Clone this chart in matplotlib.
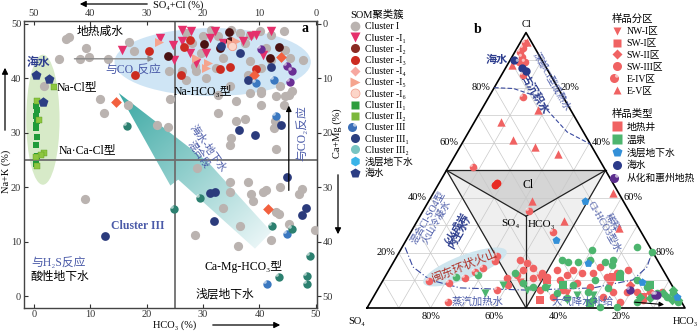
import numpy as np
import matplotlib
matplotlib.use('Agg')
import matplotlib.pyplot as plt
from matplotlib.patches import Ellipse, Polygon
from matplotlib.lines import Line2D
from matplotlib.path import Path
from matplotlib.markers import MarkerStyle
from matplotlib.legend_handler import HandlerTuple
from matplotlib.colors import to_rgb

plt.rcParams['font.family'] = ['Liberation Serif', 'Noto Sans CJK SC', 'DejaVu Sans']
plt.rcParams['font.size'] = 7.5
plt.rcParams['axes.unicode_minus'] = False

# ──────────────────────────────────────────────────────────────
# panel a 数据: (HCO3 %, Na+K %)
# ──────────────────────────────────────────────────────────────
a_I = np.array([
    (5.7, 47.2), (6.3, 47.6), (4.5, 43.5), (8.2, 43.5), (9.3, 45.6), (9.7, 43.9), (13.1, 43.5),
    (16.8, 46.7), (17.7, 45.0), (11.8, 36.2), (12.5, 33.6), (16.7, 35.1), (1.8, 38.6),
    (21.9, 31.4), (23.8, 31.0), (24.2, 36.2), (24.0, 41.3), (26.9, 48.3), (28.1, 46.5),
    (28.5, 42.3), (26.3, 41.3), (29.9, 47.8), (31.4, 48.9), (32.6, 47.8), (33.5, 43.7),
    (29.6, 44.6), (32.3, 41.9), (34.9, 48.9), (36.6, 48.3), (37.5, 46.5), (38.4, 48.0),
    (38.4, 43.2), (40.1, 48.7), (41.2, 45.6), (42.1, 48.0), (44.3, 48.7), (44.6, 45.2),
    (45.5, 43.7), (42.1, 43.4), (40.3, 41.9), (38.0, 40.6), (47.8, 43.4), (43.7, 38.6),
    (43.0, 36.7), (44.6, 36.7), (34.8, 38.6), (38.4, 37.3), (40.3, 37.3), (28.7, 41.3),
    (30.5, 40.0), (26.9, 39.7), (32.6, 33.6), (32.6, 36.9), (35.8, 35.8), (35.8, 32.1),
    (37.5, 32.5), (34.9, 29.0), (34.8, 27.7), (40.3, 35.1), (40.3, 37.6), (44.3, 35.1),
    (45.2, 36.9), (45.7, 37.6), (42.5, 30.8), (42.8, 32.1), (43.0, 27.1), (29.0, 23.6),
    (34.8, 21.0), (38.0, 21.0), (38.5, 18.8), (38.9, 17.5), (40.7, 19.2), (41.2, 19.4),
    (43.7, 20.1), (47.0, 18.8), (47.5, 19.7), (34.8, 19.2), (33.5, 16.1), (43.0, 15.5),
    (43.5, 15.1), (36.6, 12.9), (28.5, 11.3), (36.2, 9.2), (42.1, 10.3), (45.2, 13.3),
    (49.8, 12.2), (9.0, 17.9),
])
a_I1 = np.array([
    (15.6, 45.2), (22.4, 47.4), (24.6, 46.1), (24.9, 43.4), (26.3, 48.9), (27.8, 48.7),
    (26.3, 46.9), (27.6, 44.6), (28.7, 42.8), (30.5, 44.6), (32.1, 48.7), (31.2, 47.4),
    (33.5, 46.5), (37.1, 46.9), (38.5, 47.8), (39.4, 48.0), (42.1, 48.7), (40.7, 44.3),
])
a_I2 = np.array([(34.6, 48.5), (34.8, 46.9), (33.0, 45.6), (30.1, 46.3), (23.7, 44.1),
                 (43.4, 45.8), (41.8, 43.7)])
a_I3 = np.array([(20.4, 45.0), (17.9, 40.6), (26.0, 40.6), (27.6, 47.0), (26.7, 45.8),
                 (33.0, 41.7), (34.8, 42.1), (39.4, 41.7)])
a_I4 = np.array([(43.9, 43.9), (14.5, 35.6), (39.1, 40.6), (41.6, 15.9)])
a_I5 = np.array([(22.2, 46.7), (28.7, 43.7), (30.8, 42.8), (30.5, 41.9), (34.9, 46.5),
                 (35.8, 46.9)])
a_I6 = np.array([(35.2, 46.0)])
a_II1 = np.array([(0.4, 35.0), (0.5, 34.1), (0.4, 33.0), (0.5, 32.1), (0.3, 31.5),
                  (0.4, 30.8), (0.5, 29.3), (0.4, 27.7), (0.5, 25.8), (0.3, 24.2)])
a_II2 = np.array([(3.6, 38.4), (0.5, 35.8), (0.9, 32.3), (1.8, 26.2), (1.3, 26.0),
                  (0.4, 25.6), (0.6, 23.9)])
a_III = np.array([(39.4, 39.1), (42.5, 39.7), (43.0, 33.0), (44.8, 11.4), (41.4, 2.2)])
a_III1 = np.array([(36.6, 44.6), (42.1, 42.1), (38.0, 39.7), (33.2, 45.9), (36.4, 30.6),
                   (39.2, 29.5), (43.9, 31.4), (44.8, 21.8), (31.2, 19.0), (32.1, 19.2),
                   (31.9, 13.7), (48.2, 16.2), (47.5, 14.8), (12.7, 11.1)])
a_III2 = np.array([(29.4, 18.1), (24.9, 15.9), (42.3, 12.9), (45.7, 12.4), (48.9, 7.4),
                   (43.5, 3.5), (48.4, 3.7), (48.4, 2.2), (16.5, 31.2)])
a_purple = np.array([(40.3, 45.4), (44.8, 42.3), (45.7, 41.3), (45.5, 39.3)])
a_sea = np.array([(0.4, 40.6), (2.7, 39.9), (1.6, 35.6)])

# ──────────────────────────────────────────────────────────────
# panel b 数据: (Cl %, HCO3 %)，SO4 = 100 - Cl - HCO3
# ──────────────────────────────────────────────────────────────
b_red_o = np.array([
    (17.5, 39.4), (16.4, 42.1), (14.5, 45.0), (13.8, 42.2), (12.7, 48.7), (10.9, 38.6),
    (12.0, 41.2), (8.4, 40.1), (10.9, 46.8), (11.3, 51.0), (13.8, 52.8), (10.2, 55.6),
    (12.0, 56.9), (13.8, 57.9), (12.7, 61.3), (9.1, 61.5), (12.7, 64.8), (14.9, 65.9),
    (11.3, 69.9), (12.7, 72.3), (13.8, 75.2), (7.6, 66.3), (5.8, 74.5), (5.8, 78.9),
    (5.8, 82.0), (5.8, 86.1), (6.5, 58.4), (6.5, 51.2), (4.0, 56.5), (4.0, 72.2),
    (2.2, 78.5), (2.9, 85.4), (5.8, 89.9), (44.7, 18.0), (45.5, 18.1),
])
b_red_sph = np.array([
    (96.4, 1.5), (94.5, 1.9), (93.1, 1.5), (91.3, 3.1), (89.5, 3.1), (89.5, 5.0),
    (84.7, 6.8), (76.7, 10.8), (51.3, 7.7), (35.3, 33.3), (27.6, 44.7), (9.8, 14.6),
    (9.1, 21.2), (10.9, 25.4), (13.1, 27.4), (14.5, 29.2), (17.1, 31.7), (18.9, 31.4),
    (2.2, 24.4), (6.5, 37.7),
])
b_red_up = np.array([(96.7, 2.0), (88.4, 1.4), (72.0, 17.8), (67.6, 8.3), (61.1, 15.4),
                     (58.5, 23.6), (56.0, 32.1), (38.9, 32.4), (31.6, 46.1), (41.8, 56.5),
                     (29.1, 64.7)])
b_red_dn = np.array([(10.9, 49.0), (5.5, 60.2), (9.5, 43.4), (8.4, 72.2)])
b_red_sq = np.array([(11.3, 71.8), (10.2, 51.5), (4.0, 84.8), (2.9, 53.0)])
b_red_dia = np.array([(8.4, 78.5)])
b_green_o = np.array([
    (12.7, 40.2), (9.1, 44.6), (7.6, 48.4), (17.5, 52.6), (16.7, 54.9), (16.7, 58.1),
    (17.5, 61.4), (16.7, 66.5), (17.5, 68.7), (12.7, 73.3), (10.2, 66.6), (8.4, 60.6),
    (5.5, 57.0), (3.6, 61.1), (5.8, 66.6), (7.3, 72.2), (0.4, 78.4), (10.2, 79.8),
    (7.6, 84.3), (5.5, 88.5), (4.0, 92.3), (5.5, 93.5), (2.2, 96.8), (2.2, 83.8),
    (0.4, 73.1), (7.6, 52.2), (2.9, 69.7), (21.1, 60.3), (15.6, 69.2), (22.2, 73.8),
    (20.4, 79.4),
])
b_green_sph = np.array([(11.3, 22.3), (12.0, 28.9)])
b_green_dn = np.array([(8.4, 38.6), (5.5, 34.4), (7.3, 53.0), (4.7, 63.7), (2.9, 61.5),
                       (4.7, 68.8), (6.5, 47.1)])
b_green_sq = np.array([(8.4, 57.4), (11.3, 74.0), (1.8, 69.2), (8.4, 84.8)])
b_green_dia = np.array([(6.5, 93.0), (2.9, 96.5), (2.9, 94.5), (5.5, 90.4), (3.6, 87.2),
                        (4.0, 83.8)])
b_blue_pent = np.array([(38.9, 49.1), (24.7, 47.1), (9.5, 81.7), (4.0, 95.5), (16.4, 61.3)])
b_navy_o = np.array([(90.2, 1.1), (87.3, 5.1), (86.2, 6.9)])
b_purple = np.array([(6.5, 79.4), (4.7, 88.2), (4.7, 89.0)])

# 辅助曲线 (Cl %, HCO3 %)
deep_curve = np.array([(80, 0), (79.7, 6.2), (77.4, 13.3), (71.9, 20.7), (63.9, 31.0),
                       (59.5, 40.5)])
low_curve = np.array([(22, 1), (14.9, 7), (10.2, 14.7), (7.3, 25.6), (6.5, 47),
                      (7.3, 67.5), (10.2, 78.5), (14.9, 80.6), (20.3, 79.5)])

NAVY = '#2f3f8f'
LBLUE = '#4a5aa8'
RED = '#f06262'
GREEN = '#4db56e'

HL = MarkerStyle(Path.circle(center=(-0.28, 0.28), radius=0.2))


def sphere(ax, x, y, color, s, z=4, clip=True):
    ax.scatter(x, y, s=s, c=color, marker='o', linewidths=0, zorder=z, clip_on=clip)
    ax.scatter(x, y, s=s, c='white', marker=HL, alpha=0.6, linewidths=0, zorder=z + 0.1,
               clip_on=clip)


def tern(cl, h):
    cl = np.asarray(cl, float) / 100
    h = np.asarray(h, float) / 100
    return h + cl / 2, cl * np.sqrt(3) / 2


fig = plt.figure(figsize=(7, 3.31), dpi=100)

# ──────────────────────────────────────────────────────────────
# panel a
# ──────────────────────────────────────────────────────────────
ax = fig.add_axes([24 / 700, 1 - 307.7 / 331, 293 / 700, 287 / 331])

ax.add_patch(Ellipse((31.7, 43.0), 34.8, 12.5, facecolor='#cfe5f5', edgecolor='none', zorder=0))
ax.add_patch(Ellipse((1.6, 32.4), 5.9, 23.9, facecolor='#d7eac8', edgecolor='none', zorder=0))

# 海水-地下水混合段 渐变楔形
wedge = Polygon([(15.05, 37.3), (24.2, 20.3), (25.6, 21.4), (39.2, 8.7), (42.1, 11.8),
                 (30.8, 24.7)], closed=True, facecolor='none', edgecolor='none')
ax.add_patch(wedge)
GX, GY = np.meshgrid(np.linspace(10, 45, 300), np.linspace(5, 40, 300))
p0 = np.array([15.05, 37.3])
d = np.array([41.0, 10.0]) - p0
t = np.clip(((GX - p0[0]) * d[0] + (GY - p0[1]) * d[1]) / (d @ d), 0, 1)
c0 = np.array(to_rgb('#3aa8a3'))
c1 = np.array(to_rgb('#eaf6f7'))
img = c0 * (1 - t[..., None]) + c1 * t[..., None]
im = ax.imshow(img, extent=[10, 45, 5, 40], origin='lower', aspect='auto', zorder=0.5)
im.set_clip_path(wedge)

ax.axvline(25, color='#6e6e6e', lw=1.3, zorder=1)
ax.axhline(25, color='#6e6e6e', lw=1.3, zorder=1)

ax.scatter(*a_I.T, s=44, c='#bab3b0', linewidths=0, zorder=3)
ax.scatter(*a_I1.T, s=46, c='#e5306c', marker='v', linewidths=0, zorder=4)
ax.scatter(*a_I2.T, s=40, c='#4a1212', linewidths=0, zorder=4)
ax.scatter(*a_I3.T, s=40, c='#cc2b20', linewidths=0, zorder=4)
ax.scatter(*a_I4.T, s=30, c='#f2603e', marker='D', linewidths=0, zorder=4)
ax.scatter(*a_I5.T, s=42, c='#f5a48e', marker='>', linewidths=0, zorder=4)
ax.scatter(*a_I6.T, s=36, c='#fcd5c8', edgecolors='#f09a88', linewidths=0.6, zorder=4)
ax.scatter(*a_II1.T, s=22, c='#1f9b3a', marker='s', linewidths=0, zorder=4)
ax.scatter(*a_II2.T, s=22, c='#8dc63f', marker='s', edgecolors='#5a9a20', linewidths=0.3,
           zorder=4)
sphere(ax, *a_III.T, '#3b78c0', 36)
ax.scatter(*a_III1.T, s=40, c='#2b3b7c', linewidths=0, zorder=4)
sphere(ax, *a_III2.T, '#2c8070', 36)
sphere(ax, *a_purple.T, '#6a2f95', 36)
ax.scatter(*a_sea.T, s=56, c='#2c3e84', marker='p', linewidths=0, zorder=4)

ax.set_xlim(-1.75, 50.2)
ax.set_ylim(-2.15, 50.6)
ax.set_xticks(range(0, 51, 10))
ax.set_yticks(range(0, 51, 10))
ax.tick_params(axis='x', direction='in', length=3, labelsize=7.5, pad=2, colors='#333333')
ax.tick_params(axis='y', direction='in', length=3, labelsize=7.5, pad=2, colors='#333333')
for s in ax.spines.values():
    s.set_color('#444444')
    s.set_linewidth(1.0)

flip = (lambda v: 50 - v, lambda v: 50 - v)
top = ax.secondary_xaxis('top', functions=flip)
top.set_xticks(range(0, 51, 10))
top.tick_params(direction='in', length=3, labelsize=7.5, pad=2, colors='#333333')
right = ax.secondary_yaxis('right', functions=flip)
right.set_yticks(range(0, 51, 10))
right.tick_params(direction='out', length=3, labelsize=7.5, pad=1, colors='#333333')
for sec in (top, right):
    for s in sec.spines.values():
        s.set_color('#444444')

ax.text(11.7, 48.5, '地热咸水', fontsize=8.5, ha='center', va='center')
ax.text(48.0, 49.2, 'a', fontsize=10, fontweight='bold', ha='center', va='center')
ax.text(0.8, 42.8, '海水', fontsize=8.5, color=NAVY, ha='center', va='center',
        fontweight='bold')
ax.text(17.6, 41.5, '与CO₂反应', fontsize=8.5, color=LBLUE, ha='center', va='center')
ax.text(7.6, 38.4, 'Na-Cl型', fontsize=8.5, ha='center', va='center')
ax.text(30.0, 37.5, 'Na-HCO₃型', fontsize=8.5, ha='center', va='center')
ax.text(9.4, 26.8, 'Na·Ca-Cl型', fontsize=8.5, ha='center', va='center')
ax.text(30.1, 26.5, '海水-地下水\n混合段', fontsize=7.5, color=LBLUE, ha='center',
        va='center', rotation=-55, linespacing=1.0)
ax.text(47.6, 30.0, '与CO₂反应', fontsize=8.5, color=LBLUE, ha='center', va='center',
        rotation=90)
ax.text(18.4, 12.9, 'Cluster III', fontsize=8.5, color=LBLUE, ha='center', va='center',
        fontweight='bold')
ax.text(4.3, 6.1, '与H₂S反应', fontsize=8.5, color=LBLUE, ha='center', va='center')
ax.text(4.6, 3.5, '酸性地下水', fontsize=8.5, ha='center', va='center')
ax.text(37.1, 5.5, 'Ca-Mg-HCO₃型', fontsize=8.5, ha='center', va='center')
ax.text(33.9, 0.3, '浅层地下水', fontsize=8.5, ha='center', va='center')
ax.annotate('', xy=(21.8, 43.6), xytext=(6.7, 43.6),
            arrowprops=dict(arrowstyle='-|>', color='#8a8a8a', lw=1.0, mutation_scale=8),
            zorder=5)
ax.annotate('', xy=(45.2, 35.5), xytext=(45.2, 18.9),
            arrowprops=dict(arrowstyle='-|>', color='black', lw=0.9, mutation_scale=8),
            zorder=5)

# 轴标题与箭头 (图坐标)
fig.text(178 / 700, 1 - 5 / 331, 'SO₄+Cl (%)', fontsize=7.5, ha='center', va='center')
fig.text(175 / 700, 1 - 325 / 331, 'HCO₃ (%)', fontsize=7.5, ha='center', va='center')
fig.text(6 / 700, 1 - 171 / 331, 'Na+K (%)', fontsize=7.5, ha='center', va='center',
         rotation=90)
fig.text(337 / 700, 1 - 133 / 331, 'Ca+Mg (%)', fontsize=7.5, ha='center', va='center',
         rotation=90)
arr = dict(arrowstyle='-|>', color='black', lw=0.9, mutation_scale=9)
for (x0, y0), (x1, y1) in [((150, 4), (77, 4)), ((210, 325), (283, 325)),
                           ((5, 133), (5, 65)), ((338, 172), (338, 237))]:
    fig.add_artist(matplotlib.patches.FancyArrowPatch(
        (x0 / 700, 1 - y0 / 331), (x1 / 700, 1 - y1 / 331), transform=fig.transFigure, **arr))


def mk(marker, color, ms=6, mec='none', mew=0.5):
    return Line2D([], [], ls='', marker=marker, mfc=color, mec=mec, mew=mew, ms=ms)


def sp(color, ms=6):
    return (mk('o', color, ms), Line2D([], [], ls='', marker=HL, mfc='white', mec='none',
                                       alpha=0.6, ms=ms))


a_handles = [mk('o', '#bab3b0', 7), mk('v', '#e5306c', 7), mk('o', '#8a2a22', 6.5),
             mk('o', '#cc2b20', 6.5), mk('D', '#f7a8a0', 5.5), mk('>', '#f5a48e', 6.5),
             mk('o', '#fcd5c8', 6.5, '#f09a88'), mk('s', '#2e9e3e', 6), mk('s', '#7cb83c', 6),
             sp('#3b6fb8', 6.5), mk('o', '#2b3f80', 6.5), mk('o', '#78c4c2', 6.5),
             mk('h', '#3ab4e8', 7), mk('p', '#2c3e84', 7)]
a_labels = ['Cluster I', 'Cluster -I₁', 'Cluster -I₂', 'Cluster -I₃', 'Cluster -I₄',
            'Cluster -I₅', 'Cluster -I₆', 'Cluster II₁', 'Cluster II₂', 'Cluster III',
            'Cluster III₁', 'Cluster III₂', '浅层地下水', '海水']
leg_kw = dict(loc='upper left', bbox_transform=fig.transFigure, frameon=False,
              alignment='left', fontsize=7, title_fontsize=7.5, handlelength=1.0,
              handletextpad=0.5, borderpad=0, borderaxespad=0,
              handler_map={tuple: HandlerTuple(ndivide=None)})
fig.legend(a_handles, a_labels, title='SOM聚类簇', bbox_to_anchor=(350 / 700, 1 - 10 / 331),
           labelspacing=0.23, **leg_kw)

# ──────────────────────────────────────────────────────────────
# panel b 三角图
# ──────────────────────────────────────────────────────────────
bx = fig.add_axes([367 / 700, 1 - 308 / 331, 318 / 700, 275.4 / 331])
bx.set_xlim(0, 1)
bx.set_ylim(0, np.sqrt(3) / 2)
bx.axis('off')

mL, mR, mB, cC = tern(50, 0), tern(50, 50), tern(0, 50), tern(100 / 3, 100 / 3)
bx.add_patch(Polygon([mL, mR, cC], closed=True, facecolor='#d5d5d5', edgecolor='none',
                     zorder=0))
bx.add_patch(Polygon([mL, cC, mB], closed=True, facecolor='#efefef', edgecolor='none',
                     zorder=0))
bx.add_patch(Polygon([mR, cC, mB], closed=True, facecolor='#efefef', edgecolor='none',
                     zorder=0))

for k in range(10, 100, 10):
    for p, q in [((k, 0), (k, 100 - k)), ((0, k), (100 - k, k)), ((0, 100 - k), (100 - k, 0))]:
        xa, ya = tern(*p)
        xb, yb = tern(*q)
        bx.plot([xa, xb], [ya, yb], color='#c9c9c9', lw=0.5, zorder=1)

for p, q in [(mL, mR), (mL, mB), (mR, mB), (cC, mL), (cC, mR), (cC, mB)]:
    bx.plot([p[0], q[0]], [p[1], q[1]], color='#222222', lw=0.9, zorder=2)
corners = [tern(0, 0), tern(0, 100), tern(100, 0), tern(0, 0)]
bx.plot([c[0] for c in corners], [c[1] for c in corners], color='black', lw=1.2, zorder=2,
        clip_on=False)

bx.plot(*tern(*deep_curve.T), color='#3a4aa0', lw=0.8, ls=(0, (4, 2)), zorder=2)
bx.plot(*tern(*low_curve.T), color='#3a4aa0', lw=0.8, ls=(0, (6, 2, 1, 2)), zorder=2)
bx.add_patch(Ellipse((0.308, 0.129), 0.28, 0.075, angle=21, facecolor='#cfe5ee',
                     edgecolor='none', zorder=1.5))

kw = dict(linewidths=0, zorder=4, clip_on=False)
bx.scatter(*tern(*b_red_o.T), s=30, c=RED, marker='o', **kw)
bx.scatter(*tern(*b_red_o[-2:].T), s=30, c='#e82a22', marker='o', **kw)
sphere(bx, *tern(*b_red_sph.T), RED, 30, clip=False)
bx.scatter(*tern(*b_red_up.T), s=36, c=RED, marker='^', **kw)
bx.scatter(*tern(*b_red_dn.T), s=34, c=RED, marker='v', **kw)
bx.scatter(*tern(*b_red_sq.T), s=26, c=RED, marker='s', **kw)
bx.scatter(*tern(*b_red_dia.T), s=24, c=RED, marker='D', **kw)
bx.scatter(*tern(*b_green_o.T), s=30, c=GREEN, marker='o', **kw)
sphere(bx, *tern(*b_green_sph.T), GREEN, 30, clip=False)
bx.scatter(*tern(*b_green_dn.T), s=34, c=GREEN, marker='v', **kw)
bx.scatter(*tern(*b_green_sq.T), s=26, c=GREEN, marker='s', **kw)
bx.scatter(*tern(*b_green_dia.T), s=24, c=GREEN, marker='D', **kw)
bx.scatter(*tern(*b_blue_pent.T), s=36, c='#3390d8', marker='p', **kw)
bx.scatter(*tern(*b_navy_o.T), s=36, c='#2b3a8a', marker='o', **kw)
sphere(bx, *tern(*b_purple.T), '#5b2d8e', 36, clip=False)

# 刻度标签
for k in (20, 40, 60, 80):
    x, y = tern(k, 0)
    bx.text(x - 0.012, y, f'{k}%', ha='right', va='center', fontsize=7.5)
    x, y = tern(100 - k, k)
    bx.text(x + 0.008, y, f'{k}%', ha='left', va='center', fontsize=7.5)
    x, y = tern(0, 100 - k)
    bx.text(x, y - 0.014, f'{k}%', ha='center', va='top', fontsize=7.5)
bx.text(0.503, 0.893, 'Cl', ha='center', va='center', fontsize=7.5)
bx.text(-0.031, -0.041, 'SO₄', ha='center', va='center', fontsize=7.5)
bx.text(1.042, -0.044, 'HCO₃', ha='right', va='center', fontsize=7.5)
bx.text(0.349, 0.877, 'b', ha='center', va='center', fontsize=10, fontweight='bold')
bx.text(0.506, 0.387, 'Cl', ha='center', va='center', fontsize=8.5)
bx.text(0.45, 0.267, 'SO₄', ha='center', va='center', fontsize=8)
bx.text(0.55, 0.264, 'HCO₃', ha='center', va='center', fontsize=8)
bx.text(0.409, 0.78, '海水', ha='center', va='center', fontsize=8, color=NAVY,
        fontweight='bold')
bx.text(0.582, 0.712, '深部Cl型成熟水', ha='center', va='center', fontsize=6.8,
        color=LBLUE, rotation=-60)
bx.text(0.527, 0.672, '古沉积水', ha='center', va='center', fontsize=8, color=NAVY,
        fontweight='bold', rotation=-60)
bx.text(0.204, 0.277, '混合Cl-SO4型\n火山冷凝水', ha='center', va='center', fontsize=7,
        color=LBLUE, rotation=60, linespacing=1.0)
bx.text(0.28, 0.252, '（火成岩\n内生水）', ha='center', va='center', fontsize=7.5,
        color=NAVY, fontweight='bold', rotation=60, linespacing=1.0)
bx.text(0.758, 0.261, '稀释\nCl-HCO3型水', ha='center', va='center', fontsize=7,
        color=LBLUE, rotation=-60, linespacing=1.0)
bx.text(0.308, 0.131, '闽东环状火山', ha='center', va='center', fontsize=8.5,
        color='#b0332a', rotation=22, zorder=5)
bx.text(0.349, 0.019, '蒸汽加热水', ha='center', va='center', fontsize=7.5, color=LBLUE)
bx.text(0.679, 0.019, '大气降水补给', ha='center', va='center', fontsize=7.5, color=LBLUE,
        zorder=6)
bx.annotate('', xy=(0.943, 0.01), xytext=(0.833, 0.019),
            arrowprops=dict(arrowstyle='-|>', color='black', lw=0.8, mutation_scale=7),
            zorder=6)

b1_handles = [mk('v', RED, 6), mk('s', RED, 6), mk('D', RED, 5.5), mk('o', RED, 6.5),
              sp(RED, 6.5), mk('^', RED, 6)]
b1_labels = ['NW-I区', 'SW-I区', 'SW-II区', 'SW-III区', 'E-IV区', 'E-V区']
fig.legend(b1_handles, b1_labels, title='样品分区', bbox_to_anchor=(612 / 700, 1 - 14 / 331),
           labelspacing=0.3, **leg_kw)
b2_handles = [mk('s', RED, 6.5), mk('s', GREEN, 6.5), mk('p', '#3390d8', 7),
              mk('o', '#2b3a8a', 6.5), sp('#5b2d8e', 6.5)]
b2_labels = ['地热井', '温泉', '浅层地下水', '海水', '从化和惠州地热']
fig.legend(b2_handles, b2_labels, title='样品类型', bbox_to_anchor=(612 / 700, 1 - 109 / 331),
           labelspacing=0.36, **leg_kw)

fig.savefig('out.png', dpi=100)
